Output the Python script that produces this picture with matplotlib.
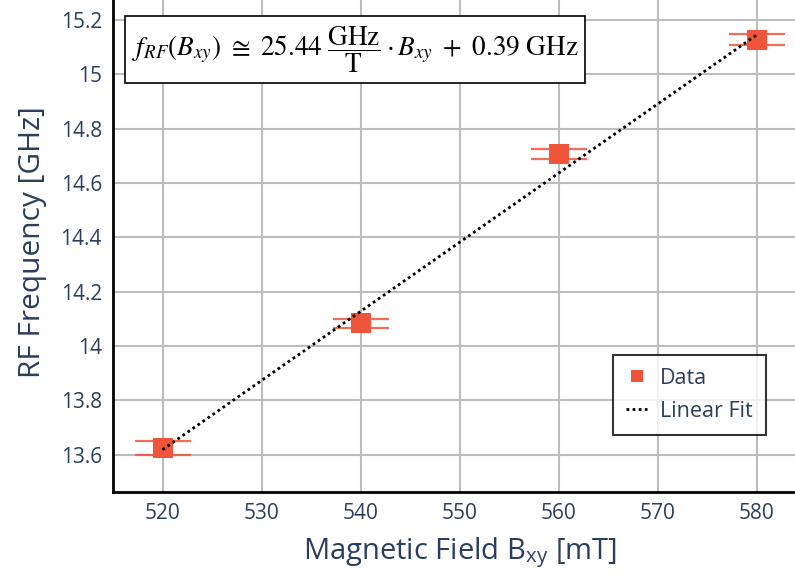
import numpy as np
import matplotlib
matplotlib.use("Agg")
import matplotlib.pyplot as plt
from matplotlib.patches import Rectangle
from matplotlib.ticker import FuncFormatter

plt.rcParams["font.family"] = ["Open Sans", "DejaVu Sans"]
plt.rcParams["mathtext.fontset"] = "stix"

# Measured resonance points
field_mT = [520, 540, 560, 580]
freq_GHz = [13.626, 14.084, 14.708, 15.128]
freq_err_GHz = [0.026, 0.017, 0.019, 0.020]

# Linear fit parameters
fit_slope_GHz_per_T = 25.44
fit_intercept_GHz = 0.39

x_ticks = [520, 530, 540, 550, 560, 570, 580]
y_ticks = [13.6, 13.8, 14.0, 14.2, 14.4, 14.6, 14.8, 15.0, 15.2]

TEXT = "#2a3f5f"
RED = "#EF553B"

W, H = 795, 572
fig = plt.figure(figsize=(W / 100, H / 100), dpi=100)
ax = fig.add_axes([113 / W, (H - 492) / H, 693 / W, 499 / H])

ax.set_xlim(515, 585)
ax.set_ylim(13.463, 15.30)
ax.set_xticks(x_ticks)
ax.set_yticks(y_ticks)
ax.yaxis.set_major_formatter(FuncFormatter(lambda v, p: f"{v:g}"))
ax.grid(True, color="#bdbdbd", lw=1.5)
ax.set_axisbelow(True)
ax.tick_params(length=0, pad=8, labelsize=15, labelcolor=TEXT)
for side in ("left", "bottom", "top", "right"):
    ax.spines[side].set_linewidth(2)
    ax.spines[side].set_color("black")

# Fit line
fx = np.array([field_mT[0], field_mT[-1]], dtype=float)
fy = fit_slope_GHz_per_T * fx / 1000.0 + fit_intercept_GHz
ax.plot(fx, fy, color="black", lw=2, linestyle=(0, (1, 1.2)),
        label="Linear Fit", zorder=4)

# Data with error bars
ax.errorbar(field_mT, freq_GHz, yerr=freq_err_GHz, fmt="none",
            ecolor=RED, elinewidth=1.5, capsize=20, capthick=1.6,
            alpha=0.85, zorder=3)
ax.plot(field_mT, freq_GHz, "s", color=RED, markersize=14,
        markeredgewidth=0, label="Data", zorder=3)

ax.set_xlabel(r"Magnetic Field B$_{\mathregular{xy}}$ [mT]", fontsize=21,
              color=TEXT, labelpad=8)
ax.set_ylabel("RF Frequency [GHz]", fontsize=21.5, color=TEXT, labelpad=10)

# Legend
handles, labels = ax.get_legend_handles_labels()
order = [labels.index("Data"), labels.index("Linear Fit")]
leg = ax.legend([handles[i] for i in order], [labels[i] for i in order],
                loc="upper left", bbox_to_anchor=(613 / W, 1 - 355 / H),
                bbox_transform=fig.transFigure, borderaxespad=0,
                fontsize=15.5, frameon=True, fancybox=False,
                handlelength=1.0, handletextpad=0.6, borderpad=0.6,
                labelspacing=0.55, markerscale=0.6)
leg.get_frame().set_edgecolor("black")
leg.get_frame().set_linewidth(1.5)
for t in leg.get_texts():
    t.set_color(TEXT)

# Fit equation box
fig.patches.append(Rectangle((125 / W, 1 - 83 / H), 460 / W, 67 / H,
                             transform=fig.transFigure, facecolor="white",
                             edgecolor="black", lw=1.2, zorder=5))
eq = (r"$f_{RF}\left(B_{xy}\right)\ \cong\ 25.44\ \dfrac{\mathrm{GHz}}{\mathrm{T}}"
      r"\cdot B_{xy}\ +\ 0.39\ \mathrm{GHz}$")
fig.text(355 / W, 1 - 50 / H, eq, ha="center", va="center", fontsize=19.5,
         color="black", zorder=6)

fig.savefig("out.png", dpi=100)
